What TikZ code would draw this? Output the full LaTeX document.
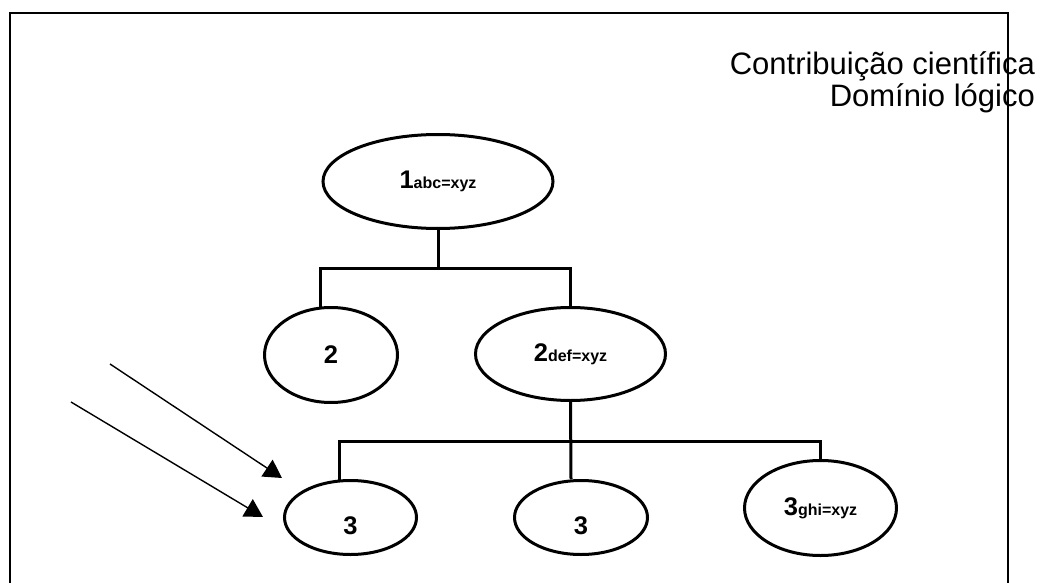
\documentclass[tikz,border=0pt]{standalone}
\usepackage{fontspec}
\setmainfont{Liberation Sans}
\usetikzlibrary{shapes.geometric,arrows.meta}
\tikzset{
  oval/.style={ellipse, draw, line width=3pt, inner sep=0pt, font=\bfseries},
  conn/.style={line width=3pt},
  frameline/.style={line width=2pt},
  pointer/.style={line width=1.4pt, -{Triangle[length=18pt,width=20pt]}},
}
\newcommand{\mainnum}[1]{{\fontsize{25.5}{25.5}\selectfont #1}}
\newcommand{\subtxt}[1]{{\fontsize{16}{16}\selectfont #1}}
\newcommand{\lowered}[1]{\raisebox{-8pt}[\height][0pt]{#1}}
\begin{document}
\begin{tikzpicture}[x=1pt,y=-1pt]
\useasboundingbox (0,0) rectangle (1041,583);
% title
\node[anchor=base east, inner sep=0pt, font=\fontsize{31}{31}\selectfont] (t1) at (1035,75) {Contribuição científica};
\node[anchor=base east, inner sep=0pt, font=\fontsize{31}{31}\selectfont] (t2) at (1035,107) {Domínio lógico};
% frame
\draw[frameline] (10,583) -- (10,13) -- (1008,13) -- (1008,583);
% nodes
\node[oval, minimum width=230pt, minimum height=94pt] (e1) at (438,181.5) {\mainnum{1}\subtxt{abc=xyz}};
\node[oval, minimum width=133pt, minimum height=95pt] (e2a) at (331,355) {\mainnum{2}};
\node[oval, minimum width=190pt, minimum height=93pt] (e2b) at (570.5,354) {\mainnum{2}\subtxt{def=xyz}};
\node[oval, minimum width=132pt, minimum height=74pt] (e3a) at (350.5,517.5) {\lowered{\mainnum{3}}};
\node[oval, minimum width=133pt, minimum height=74pt] (e3b) at (581,517.5) {\lowered{\mainnum{3}}};
\node[oval, minimum width=152pt, minimum height=95pt] (e3c) at (820.5,508) {\mainnum{3}\subtxt{ghi=xyz}};
% connectors
\coordinate (j1) at (438,268);
\coordinate (j2) at (571,441);
\draw[conn] (e1.south) -- (j1);
\draw[conn] (e2a.102) |- (j1) -| (e2b.north);
\draw[conn] (e2b.south) -- (e3b.north -| j2);
\draw[conn] (e3a.106) |- (j2) -| (e3c.north);
% arrows
\coordinate (a1s) at (110,364);
\coordinate (a1e) at (282,478);
\coordinate (a2s) at (71,402);
\coordinate (a2e) at (263,517);
\draw[pointer] (a1s) -- (a1e);
\draw[pointer] (a2s) -- (a2e);
\end{tikzpicture}
\end{document}
